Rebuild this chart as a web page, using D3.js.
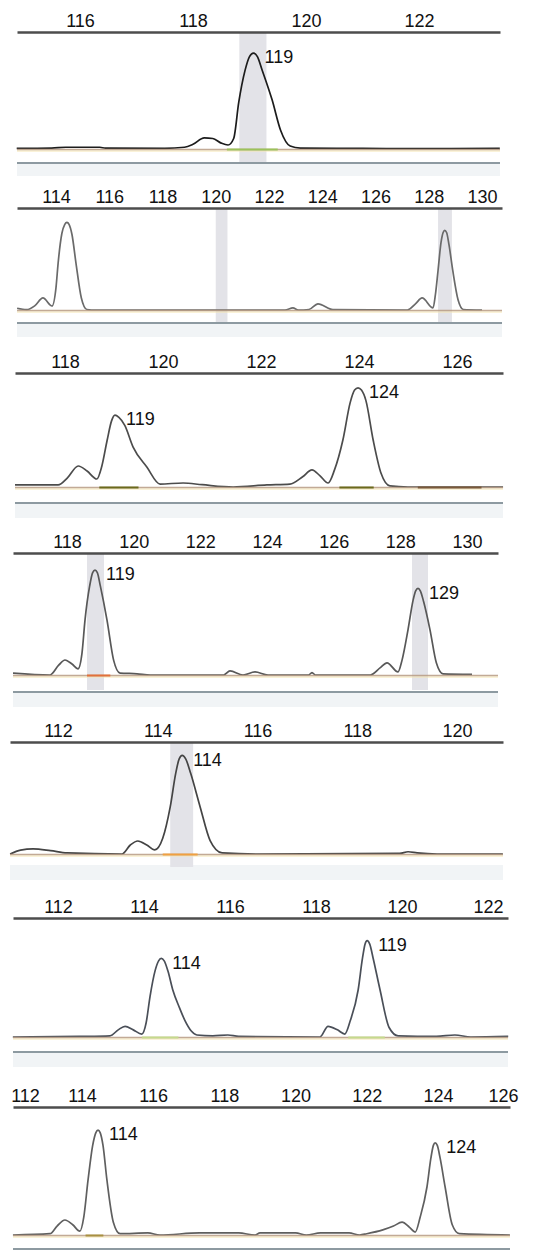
<!DOCTYPE html>
<html>
<head>
<meta charset="utf-8">
<script src="https://cdn.jsdelivr.net/npm/d3@7"></script>
<style>
  html, body { margin: 0; padding: 0; background: #fff; }
  svg { display: block; }
  text { font-family: "Liberation Sans", Arial, sans-serif; }
</style>
</head>
<body>
<script>
// ---------- DATA (fragment size in bp, relative signal height 0-100) ----------
const ticks1 = [116, 118, 120, 122];
const trace1 = [[114.88,0.5],[115.5,0.8],[115.75,1.5],[116.35,1.5],[116.45,0.7],[117.5,0.6],[117.85,1.5],[118.0,4],[118.2,9.5],[118.35,9],[118.5,5],[118.62,3.4],[118.72,9],[118.81,40],[118.92,67],[119.0,79],[119.07,82],[119.14,79],[119.22,68],[119.4,42],[119.55,16],[119.72,2.5],[119.9,0.8],[121,0.5],[122,0.3],[123.43,0.5]];
const bins1 = [[118.82,119.3]];
const alleles1 = [["119",119.07,82]];

const ticks2 = [114, 116, 118, 120, 122, 124, 126, 128, 130];
const trace2 = [[112.54,1.7],[112.9,0.3],[113.2,4],[113.51,11.8],[113.85,3.9],[114.0,22],[114.08,46],[114.22,75],[114.33,84],[114.41,86],[114.49,84],[114.6,74],[114.75,46],[114.95,12],[115.16,0.5],[115.5,0],[122.6,0],[122.9,2],[123.1,0],[123.5,0.5],[123.84,6],[124.4,0.5],[127.2,0],[127.5,6],[127.75,11.8],[128.16,2],[128.25,15],[128.35,39],[128.46,66],[128.54,76],[128.6,78],[128.67,76],[128.76,64],[128.9,39],[129.1,10],[129.3,0.5],[130.0,0]];
const bins2 = [[120.0,120.44],[128.35,128.87]];
const alleles2 = [];

const ticks3 = [118, 120, 122, 124, 126];
const trace3 = [[116.98,1.8],[117.86,1.8],[118.05,8],[118.27,18.4],[118.45,14],[118.65,7],[118.75,18],[118.86,41],[118.95,58],[119.02,63],[119.1,61],[119.22,54],[119.39,35],[119.67,17.5],[119.94,2.6],[120.41,3.5],[120.8,2],[121.43,0],[122.12,1.8],[122.59,2.6],[122.85,9],[123.04,15],[123.2,10],[123.37,3.5],[123.5,15],[123.67,41],[123.82,74],[123.91,85],[123.98,87],[124.05,85],[124.14,76],[124.29,41],[124.45,12],[124.63,1],[125.0,0],[126.94,0]];
const bins3 = [];
const alleles3 = [["119",119.02,63],["124",123.98,87]];

const ticks4 = [118, 120, 122, 124, 126, 128, 130];
const trace4 = [[116.38,1.6],[117.49,0],[117.75,8],[117.94,12.3],[118.15,9],[118.33,5],[118.45,18],[118.54,45],[118.68,73],[118.77,84],[118.84,86],[118.91,84],[119.0,73],[119.2,45],[119.4,12],[119.59,1.6],[120.1,1],[120.5,0],[122.7,0],[122.89,3.3],[123.28,0],[123.64,2.5],[124.03,0],[125.25,0],[125.35,2],[125.45,0],[127.1,0],[127.4,6],[127.6,10],[127.93,2.5],[128.05,12],[128.23,37],[128.38,61],[128.46,69],[128.53,71],[128.6,69],[128.7,60],[128.89,37],[129.08,10],[129.28,1],[130.15,0.5]];
const bins4 = [[118.6,119.11],[128.35,128.83]];
const alleles4 = [["119",118.84,86],["129",128.53,71]];

const ticks5 = [112, 114, 116, 118, 120];
const trace5 = [[111.04,0],[111.25,3.5],[111.5,4.5],[111.85,3],[112.18,1],[113.28,0],[113.45,8],[113.6,11.6],[113.78,8],[113.94,3.6],[114.1,14],[114.25,42],[114.36,72],[114.43,85],[114.49,88],[114.56,85],[114.66,72],[114.85,42],[115.05,12],[115.29,1],[116,0],[118.85,0.5],[119.02,2],[119.2,1],[119.6,0],[120.92,0]];
const bins5 = [[114.25,114.71]];
const alleles5 = [["114",114.49,88]];

const ticks6 = [112, 114, 116, 118, 120, 122];
const trace6 = [[110.95,0],[112.5,0.5],[113.21,1],[113.4,6],[113.56,9],[113.75,6],[113.95,2.5],[114.05,12],[114.14,34],[114.26,56],[114.34,64],[114.4,66],[114.47,64],[114.56,55],[114.67,39.5],[114.82,25],[114.95,14],[115.1,5],[115.23,1.7],[115.6,1],[115.95,1.7],[116.2,0.5],[118.09,0],[118.28,9],[118.5,6],[118.67,2.5],[118.8,14],[118.98,39.5],[119.08,66],[119.14,78],[119.19,81],[119.25,78],[119.33,66],[119.49,39.5],[119.7,8],[119.91,1],[120.8,0.5],[121.23,1.7],[121.6,0],[122.47,0.5]];
const bins6 = [];
const alleles6 = [["114",114.4,66],["119",119.19,81]];

const ticks7 = [112, 114, 116, 118, 120, 122, 124, 126];
const trace7 = [[112.06,0],[113.1,1],[113.3,7],[113.52,11.7],[113.74,8],[113.94,3],[114.05,14],[114.17,43],[114.3,70],[114.39,80],[114.45,82],[114.51,80],[114.59,70],[114.7,43],[114.88,10],[115.07,1],[115.85,1.6],[116.19,0],[117.3,1.6],[118.4,1.6],[118.86,0],[119.0,1.6],[120.0,1.6],[120.3,0],[120.7,1.6],[121.5,1.6],[121.8,0],[122.0,1],[122.45,4],[122.75,7],[122.99,10],[123.2,6],[123.36,2.3],[123.5,14],[123.69,37.5],[123.8,60],[123.87,70],[123.92,72],[123.98,70],[124.06,60],[124.2,37.5],[124.4,8],[124.6,1],[126.02,0]];
const bins7 = [];
const alleles7 = [["114",114.45,82],["124",123.92,72]];

// ---------- LAYOUT ----------
const W = 558, H = 1251;
const panels = [
  { ticks: ticks1, trace: trace1, bins: bins1, alleles: alleles1, cal: [116,118,80,193], L: 17, R: 500, axisY: 32, baseY: 149, binBottom: 162, lineY: 163, band: [164,176], traceColor: "#1c1c1c", dye: [[118.6,119.5,"#9cc25a"]] },
  { ticks: ticks2, trace: trace2, bins: bins2, alleles: alleles2, cal: [114,130,56,482], L: 17, R: 502, axisY: 208, baseY: 310, binBottom: 323, lineY: 323, band: [324,337], traceColor: "#6a6a6a", dye: [] },
  { ticks: ticks3, trace: trace3, bins: bins3, alleles: alleles3, cal: [118,126,65,457], L: 15, R: 503, axisY: 373, baseY: 487, binBottom: 487, lineY: 503, band: [504,518], traceColor: "#4c4c4c", dye: [[118.7,119.5,"#6b6a1c"],[123.6,124.3,"#6b6a1c"],[125.2,126.5,"#7a5a3a"]] },
  { ticks: ticks4, trace: trace4, bins: bins4, alleles: alleles4, cal: [118,130,67,467], L: 13, R: 498, axisY: 553, baseY: 675, binBottom: 690, lineY: 692, band: [693,707], traceColor: "#585858", dye: [[118.6,119.3,"#e2703a"]] },
  { ticks: ticks5, trace: trace5, bins: bins5, alleles: alleles5, cal: [112,120,58,457], L: 10, R: 503, axisY: 742, baseY: 854, binBottom: 867, lineY: null, band: [865,880], traceColor: "#444", dye: [[114.1,114.8,"#f0a040"]] },
  { ticks: ticks6, trace: trace6, bins: bins6, alleles: alleles6, cal: [112,122,58,488], L: 13, R: 508, axisY: 918, baseY: 1037, binBottom: 1037, lineY: 1052, band: [1053,1067], traceColor: "#4a4f58", dye: [[113.95,114.8,"#c5da8c"],[118.75,119.6,"#c5da8c"]] },
  { ticks: ticks7, trace: trace7, bins: bins7, alleles: alleles7, cal: [114,124,82,438], L: 13, R: 510, axisY: 1107, baseY: 1235, binBottom: 1235, lineY: 1249, band: null, traceColor: "#5f5f5f", dye: [[114.1,114.6,"#a89040"]] }
];

const svg = d3.select("body").append("svg").attr("width", W).attr("height", H);

panels.forEach(p => {
  const [v0, v1, p0, p1] = p.cal;
  const k = (p1 - p0) / (v1 - v0);
  const x = d3.scaleLinear()
    .domain([v0 + (p.L - p0) / k, v0 + (p.R - p0) / k])
    .range([p.L, p.R]);
  const y = d3.scaleLinear().domain([0, 100]).range([p.baseY, p.axisY]);
  const g = svg.append("g");

  if (p.band) {
    g.append("rect").attr("x", p.L).attr("y", p.band[0])
      .attr("width", p.R - p.L).attr("height", p.band[1] - p.band[0])
      .attr("fill", "#f1f4f6");
  }

  g.selectAll("rect.bin").data(p.bins).join("rect").attr("class", "bin")
    .attr("x", d => x(d[0])).attr("width", d => x(d[1]) - x(d[0]))
    .attr("y", p.axisY).attr("height", p.binBottom - p.axisY)
    .attr("fill", "#e3e3e8");

  if (p.lineY !== null) {
    g.append("line").attr("x1", p.L).attr("x2", p.R)
      .attr("y1", p.lineY).attr("y2", p.lineY)
      .attr("stroke", "#8d9aa1").attr("stroke-width", 2);
  }

  g.append("line").attr("x1", p.L).attr("x2", p.R)
    .attr("y1", p.baseY + 2).attr("y2", p.baseY + 2)
    .attr("stroke", "#f5e6b2").attr("stroke-width", 1.2);

  const line = d3.line().x(d => x(d[0])).y(d => y(d[1])).curve(d3.curveMonotoneX);
  g.append("path").datum(p.trace).attr("d", line)
    .attr("fill", "none").attr("stroke", p.traceColor)
    .attr("stroke-width", 1.7).attr("stroke-linejoin", "round");

  g.append("line").attr("x1", p.L).attr("x2", p.R)
    .attr("y1", p.baseY + 0.5).attr("y2", p.baseY + 0.5)
    .attr("stroke", "#b89c84").attr("stroke-width", 1.3).attr("opacity", 0.85);

  g.selectAll("line.dye").data(p.dye).join("line").attr("class", "dye")
    .attr("x1", d => x(d[0])).attr("x2", d => x(d[1]))
    .attr("y1", p.baseY + 0.5).attr("y2", p.baseY + 0.5)
    .attr("stroke", d => d[2]).attr("stroke-width", 2);

  const ax = g.append("g").attr("transform", `translate(0,${p.axisY})`)
    .call(d3.axisTop(x).tickValues(p.ticks).tickSize(0).tickSizeOuter(0).tickPadding(5).tickFormat(d3.format("d")));
  ax.attr("font-size", null).attr("font-family", null);
  ax.select(".domain").attr("stroke", "#4d4d4d").attr("stroke-width", 2.4);
  ax.selectAll(".tick text")
    .style("font-size", "18px").attr("fill", "#111")
    .style("font-family", "'Liberation Sans', Arial, sans-serif")
    .attr("dx", d => {
      const cx = x(d);
      const lo = p.L + 12, hi = p.R - 7;
      return cx < lo ? lo - cx : (cx > hi ? hi - cx : 0);
    });

  g.selectAll("text.allele").data(p.alleles).join("text").attr("class", "allele")
    .attr("x", d => x(d[1]) + 11)
    .attr("y", d => y(d[2]) + 4)
    .attr("dy", "0.35em")
    .style("font-size", "18px").attr("fill", "#111")
    .text(d => d[0]);
});
</script>
</body>
</html>
